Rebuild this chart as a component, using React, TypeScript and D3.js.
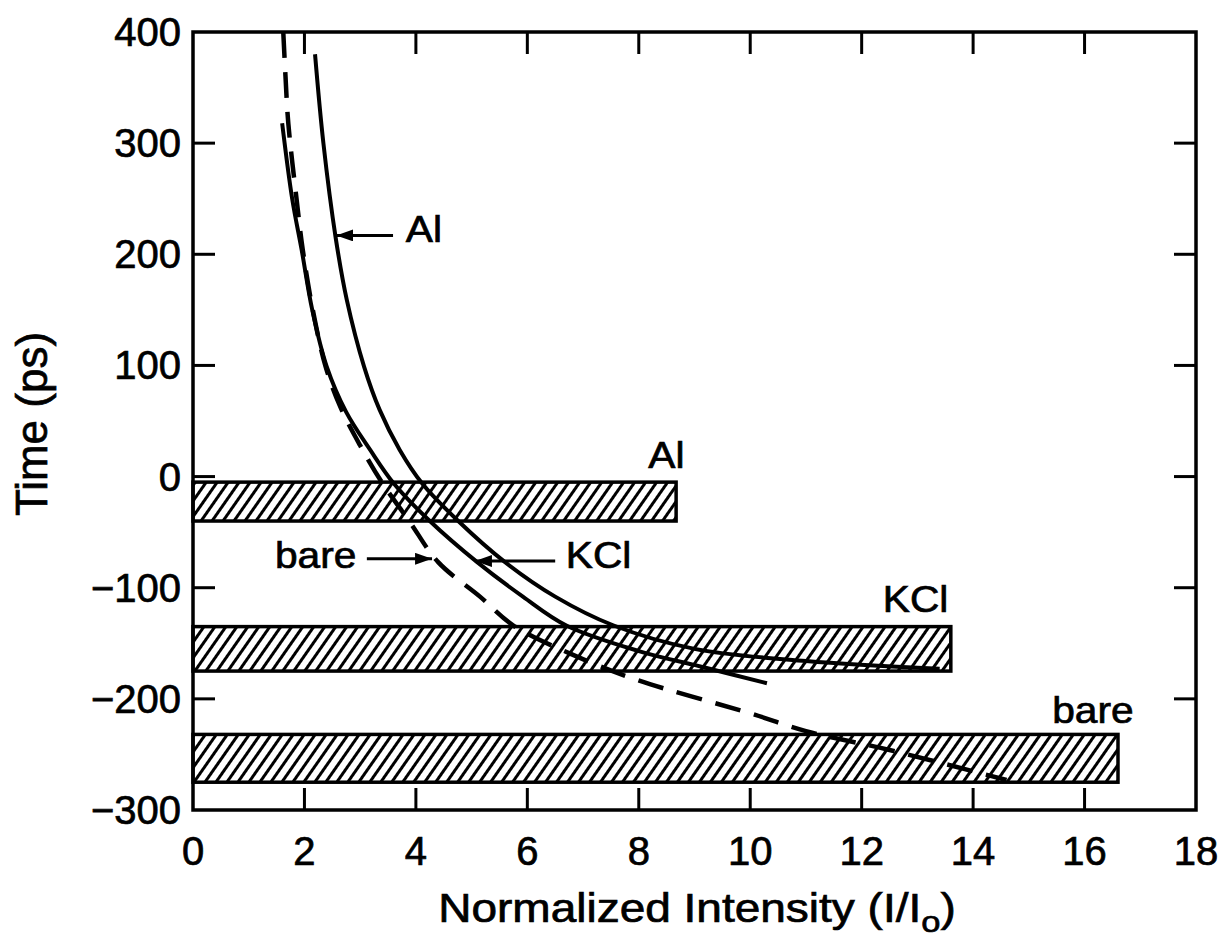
import React from "react";
import * as d3 from "d3";

// ---- data ----
const xTicks = [0, 2, 4, 6, 8, 10, 12, 14, 16, 18];
const yTicks = [-300, -200, -100, 0, 100, 200, 300, 400];

const barNames = ["Al", "KCl", "bare"];
const barTop = [-5, -135, -232];
const barBottom = [-40, -175, -275];
const barEnd = [8.67, 13.6, 16.6];

const alX = [2.19, 2.34, 2.56, 2.76, 3.07, 3.35, 3.71, 4.11, 4.76, 5.6, 6.5, 7.55, 9.0, 11.0, 13.4];
const alY = [380, 300, 215, 159, 99, 60, 24, -6, -40, -77, -108, -134, -155, -166, -173];

const kclX = [1.6, 1.78, 1.95, 2.14, 2.4, 2.75, 3.18, 3.6, 4.25, 5.1, 5.92, 6.7, 8.0, 9.2, 10.3];
const kclY = [318, 250, 204, 150, 99, 58, 24, -6, -40, -77, -108, -134, -157, -172, -186];

const bareX = [1.62, 1.66, 1.71, 1.86, 1.97, 2.15, 2.38, 2.65, 3.0, 3.4, 3.88, 4.4, 5.15, 5.75, 6.8, 7.97, 10.0, 11.0, 12.5, 14.6];
const bareY = [400, 360, 318, 249, 204, 150, 99, 62, 28, -6, -40, -77, -108, -134, -160, -183, -213, -229, -246, -273];

// annotations (data coordinates)
const barLabelX = [8.17, 12.38, 15.42];
const barLabelY = [8, -122, -222];
const curveLabels = ["Al", "bare", "KCl"];
const curveLabelX = [3.82, 1.47, 6.69];
const curveLabelY = [211, -82, -82];
const arrowFromX = [3.59, 3.12, 6.5];
const arrowToX = [2.57, 4.29, 5.06];
const arrowY = [217, -74, -76];

const FONT = "'Liberation Sans', Arial, Helvetica, sans-serif";

export default function App() {
  const x = d3.scaleLinear().domain([0, 18]).range([193, 1196]);
  const y = d3.scaleLinear().domain([-300, 400]).range([810, 32]);
  const line = d3
    .line<[number, number]>()
    .x((d) => x(d[0]))
    .y((d) => y(d[1]))
    .curve(d3.curveCatmullRom.alpha(0.5));

  const al = alX.map((v, i) => [v, alY[i]] as [number, number]);
  const kcl = kclX.map((v, i) => [v, kclY[i]] as [number, number]);
  const bare = bareX.map((v, i) => [v, bareY[i]] as [number, number]);

  const x0 = x(0), x1 = x(18), yT = y(400), yB = y(-300);
  const tickLen = 22;
  const txt = { stroke: "#000", strokeWidth: 0.7 };

  return (
    <svg
      width={1227}
      height={951}
      style={{ position: "absolute", left: 0, top: 0, background: "#fff" }}
      fontFamily={FONT}
    >
      <defs>
        <pattern id="hatch" patternUnits="userSpaceOnUse" width={9} height={9} patternTransform="rotate(35)">
          <rect width={9} height={9} fill="#fff" />
          <line x1={4.5} y1={-1} x2={4.5} y2={10} stroke="#000" strokeWidth={3} />
        </pattern>
        <marker id="ah" viewBox="0 0 17 12" refX={17} refY={6} markerWidth={17} markerHeight={12} markerUnits="userSpaceOnUse" orient="auto">
          <path d="M0,0 L17,6 L0,12 Z" fill="#000" />
        </marker>
      </defs>
      <rect width={1227} height={951} fill="#fff" />

      {/* bars */}
      {barNames.map((n, i) => (
        <rect
          key={n}
          x={x(0)}
          y={y(barTop[i])}
          width={x(barEnd[i]) - x(0)}
          height={y(barBottom[i]) - y(barTop[i])}
          fill="url(#hatch)"
          stroke="#000"
          strokeWidth={3.5}
        />
      ))}

      {/* curves */}
      <path d={line(al) || ""} fill="none" stroke="#000" strokeWidth={4} />
      <path d={line(kcl) || ""} fill="none" stroke="#000" strokeWidth={4} />
      <path d={line(bare) || ""} fill="none" stroke="#000" strokeWidth={4.5} strokeDasharray="26 14" />

      {/* frame */}
      <rect x={x0} y={yT} width={x1 - x0} height={yB - yT} fill="none" stroke="#000" strokeWidth={3.5} />

      {/* ticks */}
      {xTicks.slice(1, -1).map((t) => (
        <g key={"xt" + t}>
          <line x1={x(t)} x2={x(t)} y1={yB} y2={yB - tickLen} stroke="#000" strokeWidth={3} />
          <line x1={x(t)} x2={x(t)} y1={yT} y2={yT + tickLen} stroke="#000" strokeWidth={3} />
        </g>
      ))}
      {yTicks.slice(1, -1).map((t) => (
        <g key={"yt" + t}>
          <line x1={x0} x2={x0 + tickLen} y1={y(t)} y2={y(t)} stroke="#000" strokeWidth={3} />
          <line x1={x1} x2={x1 - tickLen} y1={y(t)} y2={y(t)} stroke="#000" strokeWidth={3} />
        </g>
      ))}

      {/* tick labels */}
      {xTicks.map((t) => (
        <text key={"xl" + t} x={x(t)} y={865} fontSize={40} textAnchor="middle" {...txt}>
          {t}
        </text>
      ))}
      {yTicks.map((t) => (
        <text key={"yl" + t} x={181} y={y(t) + 14} fontSize={40} textAnchor="end" {...txt}>
          {t < 0 ? "\u2212" + Math.abs(t) : String(t)}
        </text>
      ))}

      {/* axis titles */}
      <text transform={`translate(697,922) scale(1.15,1)`} fontSize={40} textAnchor="middle" {...txt}>
        Normalized Intensity (I/I
        <tspan fontSize={30} dy={10}>o</tspan>
        <tspan dy={-10}>)</tspan>
      </text>
      <text transform={`translate(47,424) rotate(-90)`} fontSize={44} textAnchor="middle" {...txt}>
        Time (ps)
      </text>

      {/* bar labels */}
      {barNames.map((n, i) => (
        <text key={"bl" + n} transform={`translate(${x(barLabelX[i])},${y(barLabelY[i])}) scale(1.1,1)`} fontSize={37} {...txt}>
          {n}
        </text>
      ))}

      {/* curve labels with arrows */}
      {curveLabels.map((n, i) => (
        <g key={"cl" + n}>
          <line
            x1={x(arrowFromX[i])}
            y1={y(arrowY[i])}
            x2={x(arrowToX[i])}
            y2={y(arrowY[i])}
            stroke="#000"
            strokeWidth={3}
            markerEnd="url(#ah)"
          />
          <text transform={`translate(${x(curveLabelX[i])},${y(curveLabelY[i])}) scale(1.1,1)`} fontSize={37} {...txt}>
            {n}
          </text>
        </g>
      ))}
    </svg>
  );
}
